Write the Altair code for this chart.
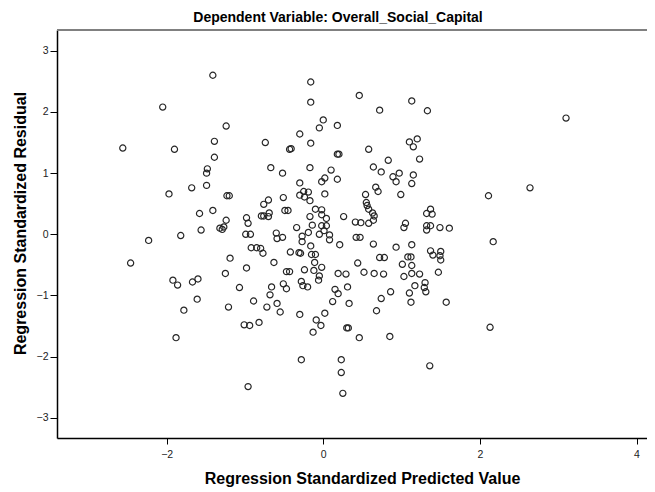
import altair as alt
import pandas as pd

# Regression Standardized Predicted Value (x) and Standardized Residual (y)
pred = [
    -1.41, -2.05, -1.24, -2.56, -1.90, -1.39, -1.39, -1.48, -1.49, -1.68, -1.49, -1.97,
    -1.23, -1.20, -1.58, -1.41, -1.24, -1.32, -1.27, -1.29, -1.56, -1.82, -2.23,
    -2.46, -1.19, -1.25, -1.92, -1.86, -1.67, -1.60, -1.61, -1.78, -1.21, -1.88,
    -0.16, -0.16, 0.46, 0.72, 0.00, -0.05, 0.18, -0.30, -0.16, -0.74, -0.43, -0.41,
    0.58, 0.18, 0.20, 0.83, -0.67, -0.17, -0.52, 0.10, 0.64, 0.74, 0.89, 0.02,
    -0.02, 0.18, -0.30, 0.67, 0.70, -0.25, -0.19, -0.30, -0.24, 0.02, 0.54, -0.51,
    -0.70, -0.17, -0.76, 0.55, 0.56, 0.58, -0.49, -0.45, -0.10, -0.02, -0.69, 0.63,
    -0.79, -0.76, -0.70, 0.65, -0.02, -0.17, 0.04, 0.26, -0.98, -0.96, 0.41, 0.48,
    0.64, 0.58, -0.14, -0.02, 0.04, -0.34, -0.19, -0.05, 0.01, -0.99, -0.93, -0.60,
    -0.52, -0.27, 0.08, 0.42, 0.47,
    -0.59, -0.27, 0.08, 0.21, 0.64, -0.92, -0.85, -0.80, -0.77, -0.42, -0.31, -0.29,
    -0.16, -0.15, -0.10, 0.72, 0.78, -0.63, -0.11, 0.44, -0.98, -0.47, -0.43, -0.24,
    -0.12, -0.02, -0.05, -0.06, 0.19, 0.29, 0.52, 0.65, 0.77, -1.07, -0.66, -0.51,
    -0.47, -0.28, -0.26, -0.20, 0.15, 0.19, 0.31, -0.68, -0.89, -0.59, -0.72, -0.55,
    0.12, 0.33, 0.74, 0.68, 0.86, -0.30, 0.02, -0.09, -0.03, -0.13, -1.01, -0.94,
    -0.82, 0.30, 0.32, 0.46, 0.85, -0.28, 0.23, 0.23, 0.25, -0.96,
    1.13, 1.33, 1.20, 1.10, 1.15, 1.23, 0.97, 0.93, 1.15, 1.13, 0.99, 2.11,
    2.64, 1.37, 1.32, 1.39, 1.05, 1.03, 1.32, 1.37, 1.32, 1.49, 1.61, 2.17,
    0.93, 1.13, 1.37, 1.40, 1.50, 1.49, 1.50, 1.08, 1.12, 1.01, 1.13, 1.03,
    1.13, 1.23, 1.47, 1.17, 1.30, 1.29, 1.31, 1.10, 1.12, 1.57, 2.13, 1.36,
    3.10,
]
resid = [
    2.60, 2.08, 1.77, 1.41, 1.39, 1.52, 1.26, 1.07, 1.00, 0.76, 0.80, 0.66,
    0.63, 0.63, 0.34, 0.39, 0.23, 0.10, 0.12, 0.08, 0.07, -0.02, -0.10,
    -0.47, -0.39, -0.64, -0.75, -0.83, -0.78, -0.73, -1.06, -1.24, -1.19, -1.69,
    2.49, 2.16, 2.27, 2.03, 1.87, 1.74, 1.78, 1.64, 1.49, 1.50, 1.39, 1.40,
    1.39, 1.31, 1.31, 1.21, 1.09, 1.09, 1.00, 1.05, 1.10, 1.02, 0.94, 0.92,
    0.86, 0.90, 0.84, 0.77, 0.70, 0.70, 0.69, 0.64, 0.61, 0.66, 0.65, 0.60,
    0.56, 0.55, 0.49, 0.52, 0.47, 0.41, 0.39, 0.39, 0.41, 0.40, 0.35, 0.35,
    0.30, 0.30, 0.29, 0.30, 0.32, 0.29, 0.26, 0.29, 0.27, 0.18, 0.20, 0.19,
    0.23, 0.18, 0.15, 0.14, 0.14, 0.11, 0.03, 0.00, 0.06, 0.00, 0.00, 0.02,
    -0.05, -0.03, -0.01, -0.05, -0.05,
    -0.07, -0.12, -0.09, -0.17, -0.16, -0.22, -0.22, -0.23, -0.31, -0.29, -0.30, -0.31,
    -0.19, -0.33, -0.33, -0.38, -0.38, -0.46, -0.46, -0.47, -0.55, -0.61, -0.61, -0.58,
    -0.59, -0.54, -0.68, -0.75, -0.64, -0.65, -0.62, -0.64, -0.65, -0.87, -0.86, -0.81,
    -0.89, -0.77, -0.84, -0.86, -0.90, -0.97, -0.86, -0.99, -1.09, -1.13, -1.19, -1.27,
    -1.10, -1.13, -1.05, -1.25, -0.94, -1.31, -1.29, -1.40, -1.49, -1.60, -1.48, -1.49,
    -1.44, -1.53, -1.53, -1.69, -1.67, -2.05, -2.05, -2.26, -2.60, -2.49,
    2.18, 2.02, 1.56, 1.51, 1.43, 1.23, 1.00, 0.86, 0.97, 0.83, 0.65, 0.63,
    0.76, 0.41, 0.34, 0.33, 0.18, 0.11, 0.14, 0.14, 0.07, 0.11, 0.10, -0.12,
    -0.21, -0.17, -0.27, -0.34, -0.28, -0.35, -0.42, -0.37, -0.37, -0.49, -0.51, -0.69,
    -0.64, -0.65, -0.62, -0.84, -0.79, -0.87, -0.94, -0.96, -1.11, -1.11, -1.52, -2.15,
    1.90,
]

x_ticks = [-2, 0, 2, 4]
y_ticks = [-3, -2, -1, 0, 1, 2, 3]

df = pd.DataFrame({"pred": pred, "resid": resid})

FONT = "Liberation Sans"

points = (
    alt.Chart(df)
    .mark_point(shape="circle", filled=False, size=38, strokeWidth=1.2,
                color="#262626", opacity=1)
    .encode(
        x=alt.X(
            "pred:Q",
            scale=alt.Scale(domain=[-3.4, 4.134], nice=False, zero=False),
            axis=alt.Axis(
                values=x_ticks, grid=False, title="Regression Standardized Predicted Value",
                titleX=305, titleY=40, titleBaseline="middle", titleAlign="center",
                titleFont=FONT, titleFontSize=16, titleFontWeight="bold", titleColor="#000",
                labelFont=FONT, labelFontSize=10.5, labelColor="#222", labelPadding=5,
                tickSize=6, tickColor="#000", domainColor="#000", domainWidth=1.5,
                labelFlush=False,
            ),
        ),
        y=alt.Y(
            "resid:Q",
            scale=alt.Scale(domain=[-3.33, 3.34], nice=False, zero=False),
            axis=alt.Axis(
                values=y_ticks, grid=False, title="Regression Standardized Residual",
                titleX=-37, titleY=193, titleBaseline="middle", titleAlign="center",
                titleAngle=270,
                titleFont=FONT, titleFontSize=16, titleFontWeight="bold", titleColor="#000",
                labelFont=FONT, labelFontSize=10.5, labelColor="#222", labelPadding=2,
                tickSize=7, tickColor="#000", domainColor="#000", domainWidth=1.5,
                labelFlush=False,
            ),
        ),
    )
)

top_border = alt.Chart(df).mark_rule(color="#808080", strokeWidth=1.5).encode(
    y=alt.value(0)
)

chart = (
    alt.layer(points, top_border)
    .properties(
        width=590,
        height=408,
        title=alt.TitleParams(
            "Dependent Variable: Overall_Social_Capital",
            font=FONT, fontSize=14, fontWeight="bold", color="#000",
            anchor="middle", dx=-14, dy=19, offset=12, baseline="alphabetic",
        ),
        autosize=alt.AutoSizeParams(type="none"),
        padding={"left": 49, "top": 22, "right": 0, "bottom": 54},
    )
    .configure_view(fill="#f0f0f0", stroke=None)
    .configure(background="white")
)

chart.save("out.html", embed_options={"renderer": "svg", "actions": False})
